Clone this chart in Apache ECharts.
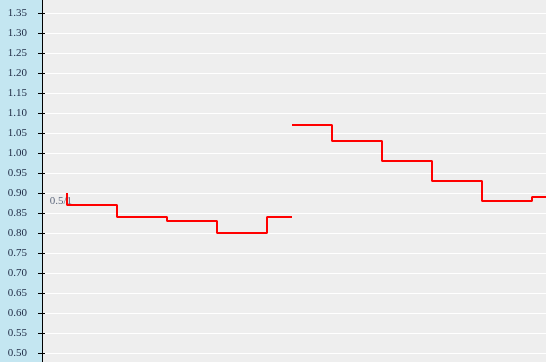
<!DOCTYPE html>
<html>
<head>
<meta charset="utf-8">
<script src="https://cdn.jsdelivr.net/npm/echarts@6/dist/echarts.min.js"></script>
<style>html,body{margin:0;padding:0;}#c{width:546px;height:362px;}</style>
</head>
<body>
<div id="c"></div>
<script>
// x positions (axis units) and values for the step line; null marks the gap
const xValues = [25, 75, 125, 175, 225, 250, 250, 250, 290, 340, 390, 440, 490, 520];
const yValues = [0.90, 0.87, 0.84, 0.83, 0.80, 0.84, null, 1.07, 1.07, 1.03, 0.98, 0.93, 0.88, 0.89];
const annotationText = '0.5/1';
const annotationPoint = [30, 0.879];
const yMin = 0.45, yMax = 1.40, yStep = 0.05;

const chart = echarts.init(document.getElementById('c'), null, {renderer: 'canvas'});
const data = xValues.map((x, i) => [x, yValues[i]]);
const labelFont = {fontFamily: '"Liberation Serif", "DejaVu Serif", serif', fontSize: 11, color: '#1f2a44'};
chart.setOption({
  backgroundColor: '#c4e6f1',
  animation: false,
  grid: {left: 42, right: 0, top: -7, bottom: -11, show: true, backgroundColor: '#eeeeee', borderWidth: 0,
    containLabel: false, outerBoundsMode: 'none'},
  xAxis: {type: 'value', min: 0, max: 504, show: false},
  yAxis: [{
    type: 'value', min: yMin, max: yMax, interval: yStep,
    axisLine: {show: true, lineStyle: {color: '#000', width: 1}},
    axisTick: {show: true, length: 4, lineStyle: {color: '#000'}},
    axisLabel: Object.assign({margin: 15, formatter: v => v.toFixed(2), padding: [0, 0, 4, 0]}, labelFont),
    splitLine: {show: true, lineStyle: {color: '#ffffff', width: 1}}
  }, {
    type: 'value', min: yMin, max: yMax, interval: yStep, position: 'left',
    axisLine: {show: false},
    axisTick: {show: true, inside: true, length: 3, lineStyle: {color: '#000'}},
    axisLabel: {show: false},
    splitLine: {show: false}
  }],
  series: [{
    type: 'line',
    step: 'start',
    data: data,
    connectNulls: false,
    showSymbol: false,
    symbol: 'none',
    clip: true,
    z: 2,
    lineStyle: {color: '#ff0000', width: 2}
  }, {
    type: 'scatter',
    z: 10,
    symbolSize: 0,
    silent: true,
    data: [annotationPoint],
    label: {show: true, position: 'left', distance: 0, formatter: annotationText,
      fontFamily: '"Liberation Serif", serif', fontSize: 11, color: '#3a4660'}
  }]
});
</script>
</body>
</html>
